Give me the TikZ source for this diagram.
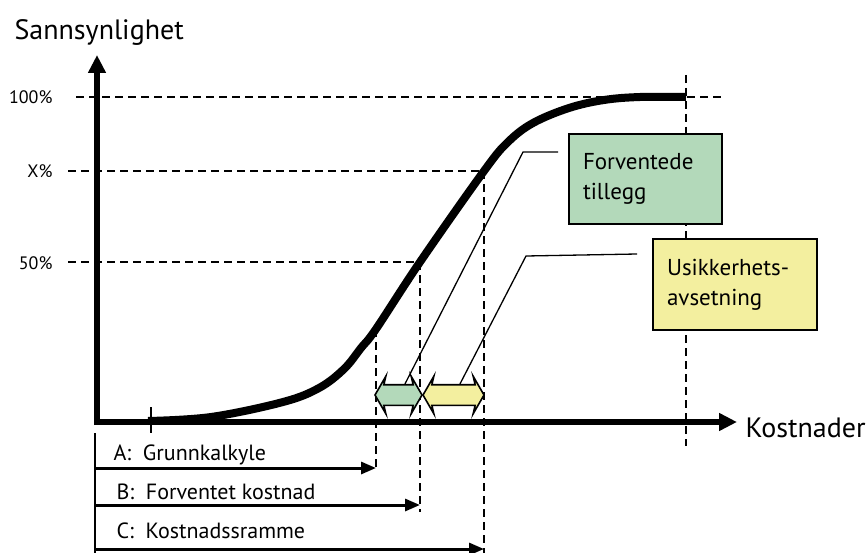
\documentclass[tikz,border=0pt]{standalone}
\usepackage{fontspec}
\setmainfont{PT Sans}
\usetikzlibrary{arrows.meta, shapes.arrows, positioning}
\definecolor{tilleggreen}{HTML}{B3D9BA}
\definecolor{avsetyellow}{HTML}{F3EF9F}
\tikzset{
  guide/.style={line width=2.6pt, dash pattern=on 8pt off 5pt},
  axis/.style={line width=6pt, -{Triangle[length=18pt,width=17pt]}},
  costarrow/.style={line width=3pt, -{Triangle[length=15pt,width=12pt]}},
  leader/.style={line width=1.3pt},
  infobox/.style={draw, line width=1.6pt, align=left, inner xsep=14pt,
    font=\fontsize{23}{30}\selectfont},
  spread/.style={double arrow, draw, line width=1.6pt, inner xsep=0pt,
    inner ysep=9.5pt, double arrow head extend=8.5pt,
    double arrow tip angle=120, double arrow head indent=2pt},
  ticklabel/.style={anchor=base east, font=\fontsize{18}{20}\selectfont},
  costlabel/.style={anchor=base west, font=\fontsize{22}{24}\selectfont}
}

\begin{document}
\begin{tikzpicture}[x=1pt, y=-1pt]
  \useasboundingbox (0,0) rectangle (866,553);

  % points on the curve
  \coordinate (ca) at (376,329);
  \coordinate (cb) at (420,262);
  \coordinate (cc) at (484,171);
  \coordinate (ctop) at (686,97);

  % guide lines
  \draw[guide] (76,97) -- (725,97);
  \draw[guide] (68,171) -- (cc);
  \draw[guide] (68,262) -- (cb);
  \draw[guide] (ca) -- (376,470);
  \draw[guide] (cb) -- (420,512);
  \draw[guide] (cc) -- (484,553);
  \draw[guide] (686,75) -- (686,446);

  \node[ticklabel] (p100) at (56,104) {100\%};
  \node[ticklabel] (px) at (56,178) {X\%};
  \node[ticklabel] (p50) at (56,269) {50\%};

  % S-curve
  \draw[line width=8pt] plot[smooth, tension=0.6] coordinates {
    (148,421) (211,417) (283,402) (319,388) (344,369) (361,348) (ca)
    (cb) (cc) (508,142) (533,123) (569,108) (604,100) (640,97) (ctop)};

  % axes
  \draw[axis] (97,425) -- (97,55);
  \draw[axis] (94,422) -- (737,422);
  \draw[line width=1.5pt] (151,407) -- (151,433);
  \node[anchor=base west, font=\fontsize{28}{30}\selectfont] (ylab) at (11,40) {Sannsynlighet};
  \node[anchor=base west, font=\fontsize{28}{30}\selectfont] (xlab) at (742,437) {Kostnader};

  % spreads
  \node[spread, fill=tilleggreen, minimum height=47pt] (gspread) at (398.5,395) {};
  \node[spread, fill=avsetyellow, minimum height=61pt] (yspread) at (453.5,395) {};

  % boxes
  \node[infobox, fill=tilleggreen, text width=125pt, minimum height=90pt] (tillegg) at (645.5,179)
    {Forventede\\tillegg};
  \node[infobox, fill=avsetyellow, text width=136pt, minimum height=91pt] (avsetning) at (735,284.5)
    {Usikkerhets-\\avsetning};

  \draw[leader] ([xshift=6.5pt]gspread.north) -- (523,152) -- (558,152);
  \draw[leader] ([xshift=6.5pt]yspread.north) -- (526,256) -- (637,254);

  % cost levels
  \draw[line width=2pt] (95,433) -- (95,553);
  \node[costlabel] (lA) at (110,460) {A:\ \ Grunnkalkyle};
  \node[costlabel] (lB) at (113,499) {B:\ \ Forventet kostnad};
  \node[costlabel] (lC) at (113,538) {C:\ \ Kostnadssramme};
  \draw[costarrow] (95,468) -- (ca |- 0,468);
  \draw[costarrow] (95,505) -- (cb |- 0,505);
  \draw[costarrow] (95,549) -- (cc |- 0,549);
\end{tikzpicture}
\end{document}
